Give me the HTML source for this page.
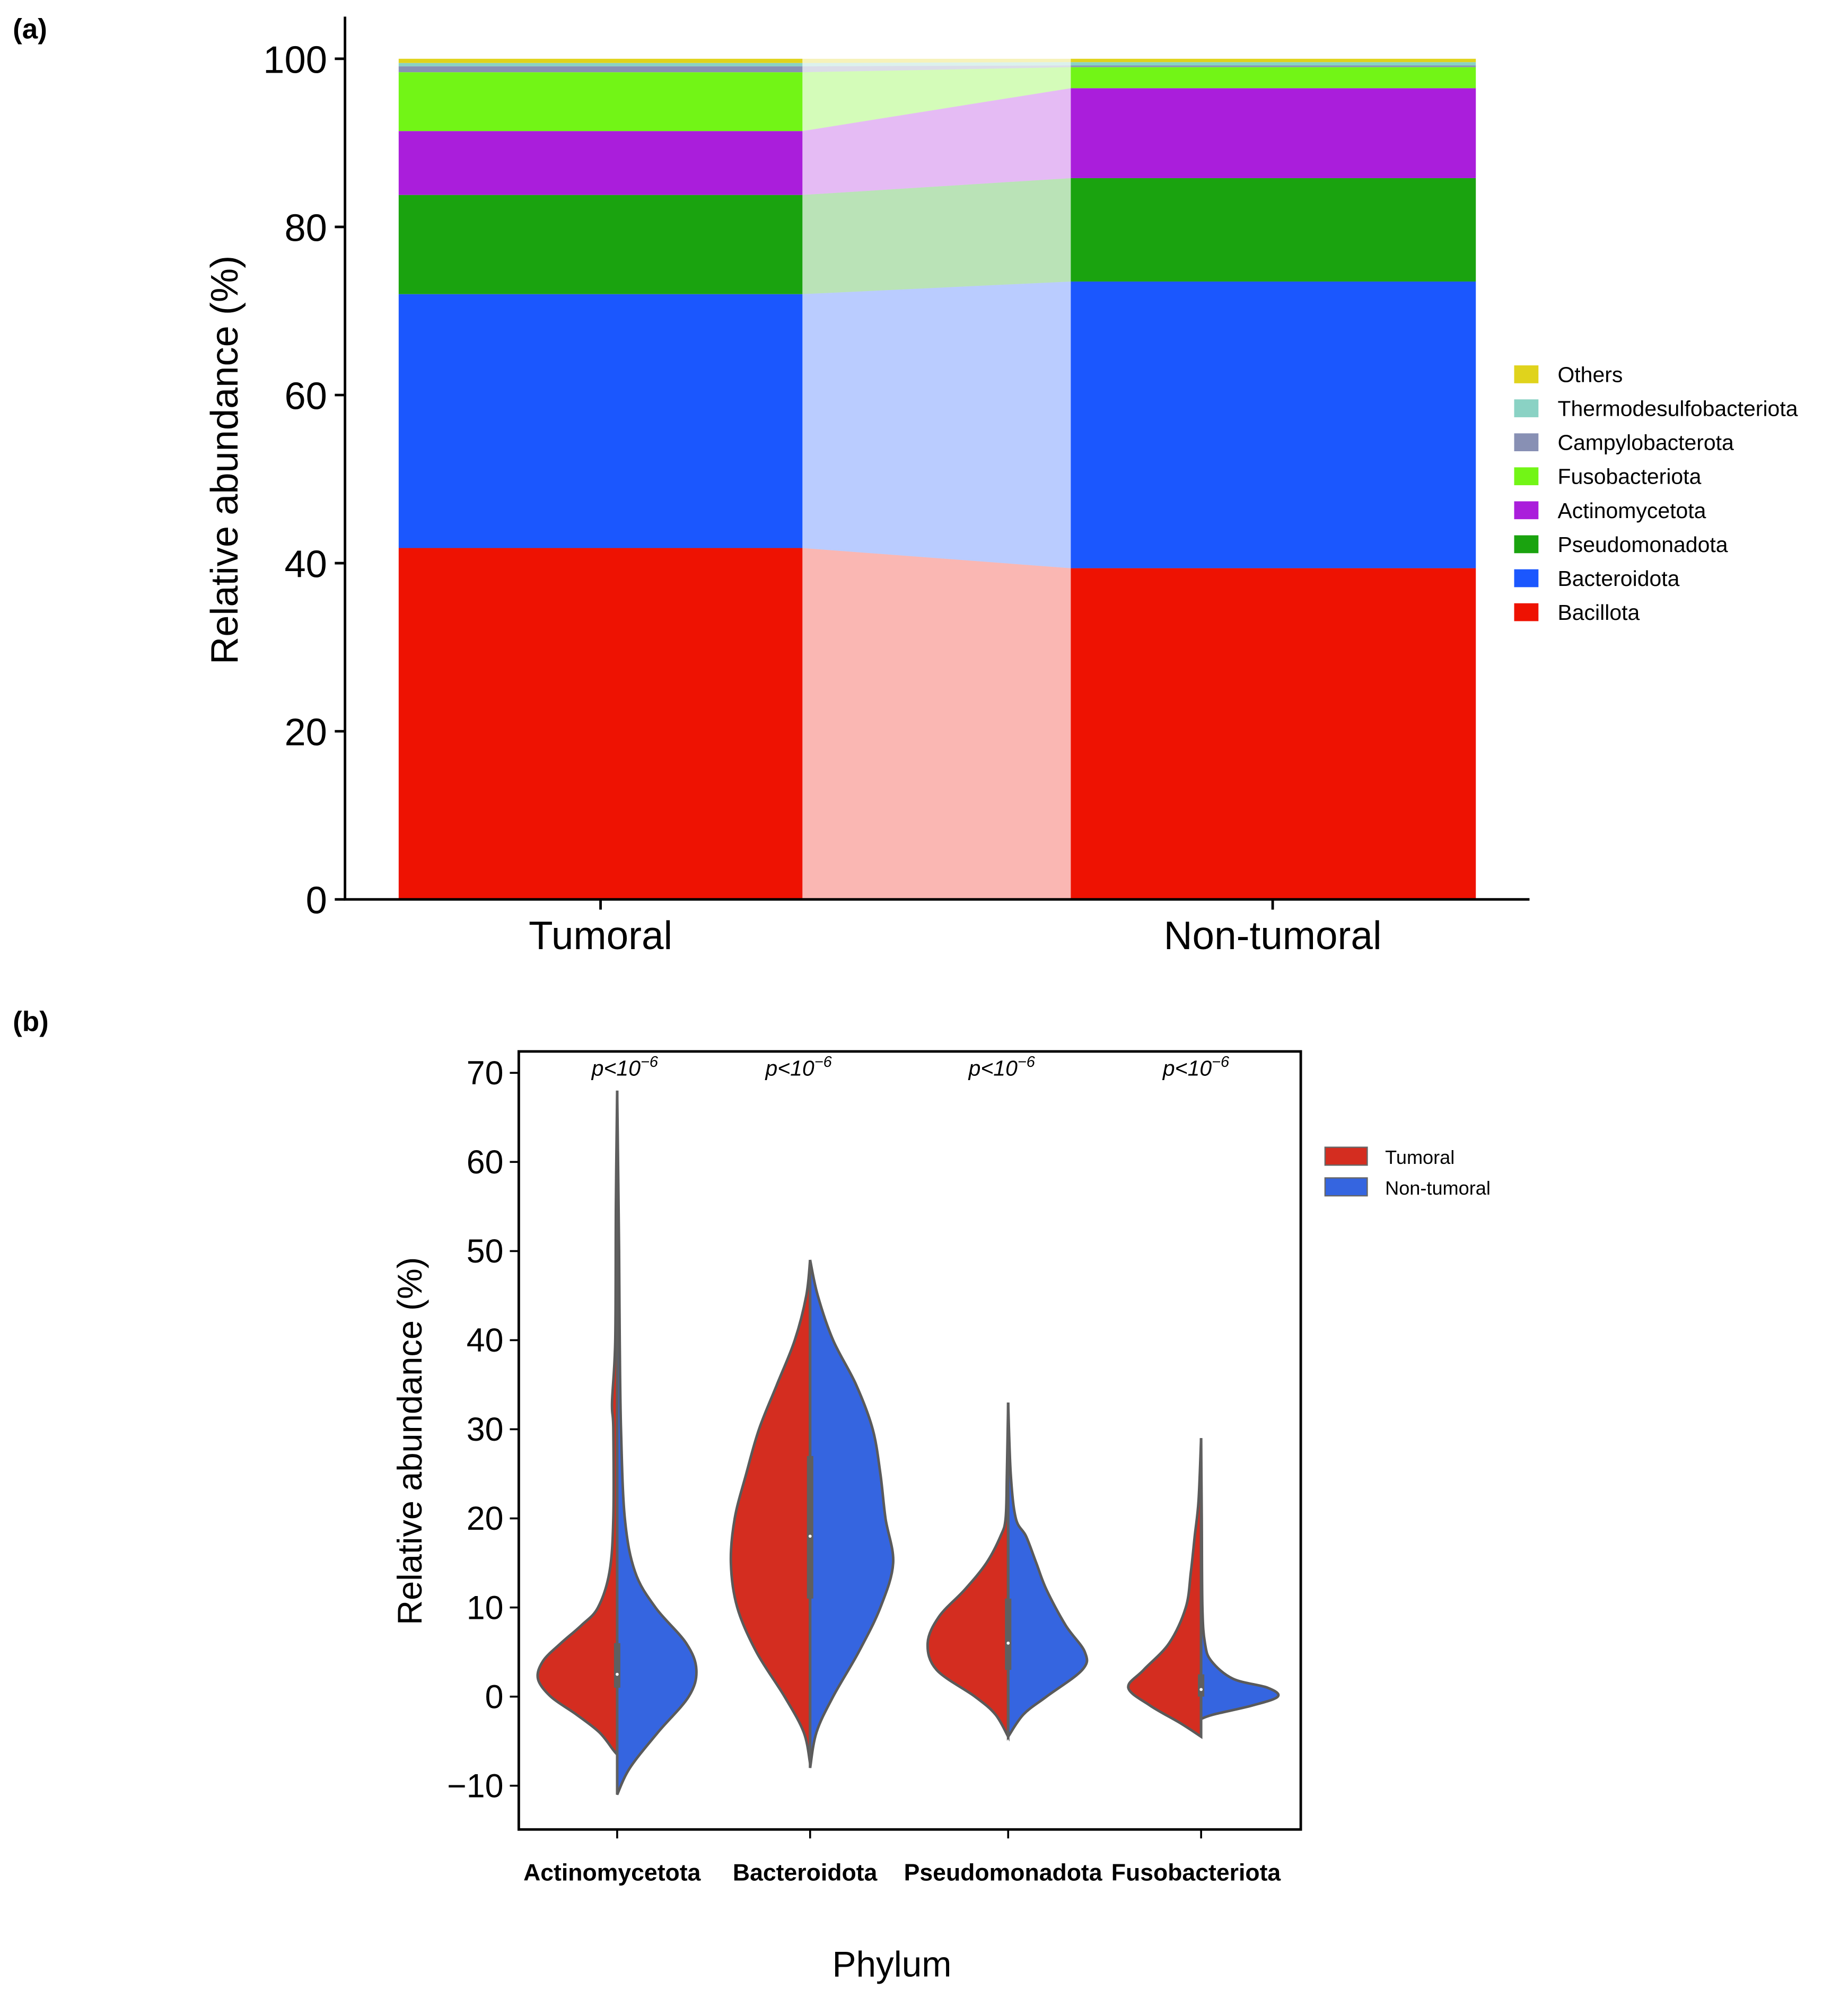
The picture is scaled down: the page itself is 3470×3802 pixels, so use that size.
<!DOCTYPE html>
<html><head><meta charset="utf-8"><style>
html,body{margin:0;padding:0;background:#fff;}
svg{display:block;}
text{font-family:"Liberation Sans",sans-serif;}
</style></head><body>
<svg id="fig" xmlns="http://www.w3.org/2000/svg" width="3470" height="3802" viewBox="0 0 1440 1578" preserveAspectRatio="none">
<g id="pa"></g>
<g id="pb"></g>
</svg>
<script>
// ---------- Panel A data ----------
const groupsA = ["Tumoral", "Non-tumoral"];
const phylaA = ["Bacillota","Bacteroidota","Pseudomonadota","Actinomycetota","Fusobacteriota","Campylobacterota","Thermodesulfobacteriota","Others"];
const tumoralVals = [41.8, 30.2, 11.8, 7.6, 7.0, 0.7, 0.4, 0.5];
const nonTumoralVals = [39.4, 34.1, 12.3, 10.7, 2.5, 0.2, 0.4, 0.4];
const colorsA = ["#ee1202","#1b57fe","#1aa30f","#aa1edb","#72f516","#8890b4","#8ad2c4","#e0d31c"];
const ticksA = [0,20,40,60,80,100];

// ---------- Panel B data ----------
const catsB = ["Actinomycetota","Bacteroidota","Pseudomonadota","Fusobacteriota"];
const pLabels = ["p<10","p<10","p<10","p<10"];
const ticksB = [-10,0,10,20,30,40,50,60,70];
// half-violin profiles: y values (%) and half-widths (density, px-ish)
const actT_y = [-6.5,-6,-4,-2,0,2,4,6,8,10,14,20,30,33,40,55,68];
const actT_w = [0,3,14,32,52,62,58,44,28,15,6,3,3,4,1.5,1,0];
const actN_y = [-11,-8,-4,0,3,6,10,14,20,30,40,50,68];
const actN_w = [0,10,32,56,62,54,30,14,6,3,2,1.5,0];
const bacT_y = [-7.5,-4,0,5,10,15,20,25,30,35,40,45,49];
const bacT_w = [0,5,20,42,57,62,59,50,40,26,12,3,0];
const bacN_y = [-8,-4,0,5,10,15,20,25,30,35,40,45,49];
const bacN_w = [0,5,18,38,55,65,59,55,49,36,18,6,0];
const pseT_y = [-4.5,-2,0,3,6,9,12,15,18,20,25,33];
const pseT_w = [0,10,26,56,63,54,34,17,6,2,1,0];
const pseN_y = [-4.5,-2,0,3,5,8,12,15,18,20,25,33];
const pseN_w = [0,12,30,58,60,45,30,22,14,6,2,0];
const fusT_y = [-4.5,-3,-1,1,3,6,10,14,18,22,29];
const fusT_w = [0,16,40,57,45,25,12,8,5,2,0];
const fusN_y = [-2.5,-2,-1,0,1,2,4,6,10,20,29];
const fusN_w = [0,10,40,60,52,25,8,3,1,0.5,0];
const violinsB = [[actT_y,actT_w,actN_y,actN_w],[bacT_y,bacT_w,bacN_y,bacN_w],[pseT_y,pseT_w,pseN_y,pseN_w],[fusT_y,fusT_w,fusN_y,fusN_w]];
const mediansB = [2.5, 18, 6, 0.8];
const q1B = [1, 11, 3, 0]; const q3B = [6, 27, 11, 2.5];

const NS="http://www.w3.org/2000/svg";
function mk(tag, parent, attrs, txt){const e=document.createElementNS(NS,tag);for(const k in attrs)e.setAttribute(k,attrs[k]);if(txt!==undefined)e.textContent=txt;parent.appendChild(e);return e;}

// ===== Panel A =====
const pa=document.getElementById('pa');
const yA=v=>704-v*6.58;
const barX=[[312,628],[838,1155]];
let t=mk('text',pa,{x:10,y:30,'font-family':'Liberation Serif',"font-size":22,"font-weight":"bold"},"(a)");

const valsA=[tumoralVals,nonTumoralVals];
const cum=[[0],[0]];
for(let g=0;g<2;g++){for(let i=0;i<phylaA.length;i++)cum[g].push(cum[g][i]+valsA[g][i]);}
// flow bands
for(let i=0;i<phylaA.length;i++){
  const p=mk('polygon',pa,{points:`628,${yA(cum[0][i])} 628,${yA(cum[0][i+1])} 838,${yA(cum[1][i+1])} 838,${yA(cum[1][i])}`,fill:colorsA[i],'fill-opacity':0.3});
  
}
for(let g=0;g<2;g++){for(let i=0;i<phylaA.length;i++){
  const r=mk('rect',pa,{x:barX[g][0],y:yA(cum[g][i+1]),width:barX[g][1]-barX[g][0],height:yA(cum[g][i])-yA(cum[g][i+1]),fill:colorsA[i]});
  
}}
let l=mk('line',pa,{x1:270,y1:13,x2:270,y2:704,stroke:'#000','stroke-width':2});

l=mk('line',pa,{x1:269,y1:704,x2:1197,y2:704,stroke:'#000','stroke-width':2});

ticksA.forEach(v=>{
  mk('line',pa,{x1:262,y1:yA(v),x2:270,y2:yA(v),stroke:'#000','stroke-width':2});
  const tt=mk('text',pa,{x:256,y:yA(v)+11,'text-anchor':'end','font-size':30},String(v));
  
});
const xc=[470,996];
groupsA.forEach((g,i)=>{
  mk('line',pa,{x1:xc[i],y1:704,x2:xc[i],y2:712,stroke:'#000','stroke-width':2});
  const tt=mk('text',pa,{x:xc[i],y:743,'text-anchor':'middle','font-size':31},g);
  
});
t=mk('text',pa,{x:0,y:0,transform:'translate(186,360) rotate(-90)','text-anchor':'middle','font-size':30},"Relative abundance (%)");

for(let k=0;k<phylaA.length;k++){
  const i=phylaA.length-1-k, y=293+k*26.6;
  const g=mk('g',pa,{});
  
  mk('rect',g,{x:1185,y:y-7,width:19,height:14,fill:colorsA[i]});
  mk('text',g,{x:1219,y:y+6,'font-size':17},phylaA[i]);
}

// ===== Panel B =====
const pb=document.getElementById('pb');
const yB=v=>1328-v*6.975;
const cx=[483,634,789,940];
t=mk('text',pb,{x:10,y:807,'font-family':'Liberation Serif',"font-size":22,"font-weight":"bold"},"(b)");

function smooth(pts){let d=`M${pts[0][0]},${pts[0][1]}`;for(let i=0;i<pts.length-1;i++){const p0=pts[Math.max(0,i-1)],p1=pts[i],p2=pts[i+1],p3=pts[Math.min(pts.length-1,i+2)];d+=` C${p1[0]+(p2[0]-p0[0])/6},${p1[1]+(p2[1]-p0[1])/6} ${p2[0]-(p3[0]-p1[0])/6},${p2[1]-(p3[1]-p1[1])/6} ${p2[0]},${p2[1]}`;}return d;}
violinsB.forEach((v,i)=>{
  const [ty,tw,ny,nw]=v;
  const lp=ty.map((y,j)=>[cx[i]-tw[j],yB(y)]);
  let d=smooth(lp)+` L${cx[i]},${yB(ty[ty.length-1])} L${cx[i]},${yB(ty[0])} Z`;
  let p=mk('path',pb,{d,fill:'#d42d20',stroke:'#5a5a5a','stroke-width':2});
  
  const rp=ny.map((y,j)=>[cx[i]+nw[j],yB(y)]);
  d=smooth(rp)+` L${cx[i]},${yB(ny[ny.length-1])} L${cx[i]},${yB(ny[0])} Z`;
  p=mk('path',pb,{d,fill:'#3565e0',stroke:'#5a5a5a','stroke-width':2});
  
  const lo=Math.min(ty[0],ny[0]),hi=Math.max(ty[ty.length-1],ny[ny.length-1]);
  mk('line',pb,{x1:cx[i],y1:yB(lo),x2:cx[i],y2:yB(hi),stroke:'#5f5f5f','stroke-width':2});
  mk('rect',pb,{x:cx[i]-2.5,y:yB(q3B[i]),width:5,height:yB(q1B[i])-yB(q3B[i]),fill:'#5f5f5f'});
  mk('circle',pb,{cx:cx[i],cy:yB(mediansB[i]),r:1.2,fill:'#fff'});
});
let r=mk('rect',pb,{x:406,y:823,width:612,height:609,fill:'none',stroke:'#000','stroke-width':2});

ticksB.forEach(v=>{
  mk('line',pb,{x1:399,y1:yB(v),x2:406,y2:yB(v),stroke:'#000','stroke-width':1.5});
  const tt=mk('text',pb,{x:394,y:yB(v)+9,'text-anchor':'end','font-size':26},v<0?'\u2212'+(-v):String(v));
  
});
const pX=[497,633,792,944];
catsB.forEach((c,i)=>{
  mk('line',pb,{x1:cx[i],y1:1432,x2:cx[i],y2:1439,stroke:'#000','stroke-width':1.5});
  const tt=mk('text',pb,{x:cx[i]-4,y:1472,'text-anchor':'middle','font-size':18.5,'font-weight':'bold'},c);
  
  const pt=mk('text',pb,{x:pX[i]-8,y:842,'text-anchor':'middle','font-size':17,'font-style':'italic'},pLabels[i]);
  
  mk('tspan',pt,{dy:-7,'font-size':12},'\u22126');
});
t=mk('text',pb,{x:0,y:0,transform:'translate(330,1128) rotate(-90)','text-anchor':'middle','font-size':27},"Relative abundance (%)");

t=mk('text',pb,{x:698,y:1547,'text-anchor':'middle','font-size':28},"Phylum");

[["Tumoral","#d42d20",905],["Non-tumoral","#3565e0",929]].forEach(e=>{
  const g=mk('g',pb,{});
  
  mk('rect',g,{x:1037,y:e[2]-7,width:33,height:14,fill:e[1],stroke:'#666','stroke-width':1});
  mk('text',g,{x:1084,y:e[2]+6,'font-size':15},e[0]);
});
</script>
</body></html>
